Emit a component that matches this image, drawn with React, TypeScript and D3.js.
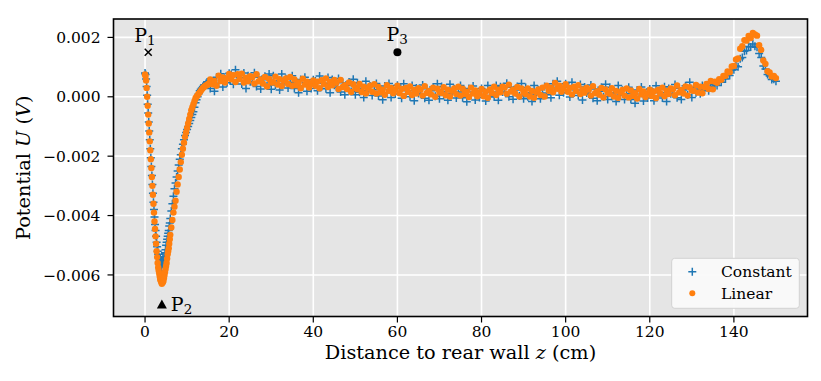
import React from 'react';
import * as d3 from 'd3';

const W = 821;
const H = 381;

// axis ticks
const xTicks = [0, 20, 40, 60, 80, 100, 120, 140];
const yTicks = [-0.006, -0.004, -0.002, 0, 0.002];

// sampling positions along z (cm): [start, end, step]
const zSegments: [number, number, number][] = [
  [0, 6, 0.125],
  [6.25, 15, 0.25],
  [15.5, 150, 0.5],
];

// values are in units of 1e-4 V
const UNIT = 1e-4;

const linearValues = [
  // z 0 .. 6 step 0.125
  7.5, 7, 5.5, 3, 0, -3, -6, -9, -12, -15, -18, -21, -24, -27, -30, -33, -36, -39, -42, -44.5,
  -47, -49.5, -52, -54, -56, -57.5, -58.5, -59.5, -60.5, -61.5, -62, -62.5, -63, -62.5, -62.5, -62, -61, -60, -59, -58,
  -57, -56, -54.5, -53, -52, -51, -49.5, -48, -46.5,
  // z 6.25 .. 15 step 0.25
  -44, -41.5, -39, -37, -35, -32, -29.5, -27, -24.5, -22,
  -19.5, -17.5, -15.5, -13.5, -12, -10.5, -9, -7.5, -6, -4.5,
  -3.5, -2.5, -1.5, -0.5, 0, 0.5, 1, 1.5, 2, 2.5,
  3, 3.3, 3.6, 3.8, 4, 4.3,
  // z 15.5 .. 150 step 0.5
  5.8, 4.2, 5.3, 3.7, 7.1, 5.3, 6.5, 4.8, 6.2, 7.7,
  5.9, 7.3, 5.0, 7.6, 6.1, 7.8, 4.8, 6.4, 5.2, 6.9,
  6.6, 4.5, 7.6, 5.2, 5.8, 4.5, 6.7, 3.5, 6.0, 4.8,
  4.9, 6.8, 4.1, 5.9, 3.6, 5.4, 6.2, 4.3, 6.7, 3.7,
  5.8, 3.9, 4.8, 2.9, 6.1, 4.1, 5.1, 3.1, 4.3, 5.5,
  3.7, 5.1, 2.9, 5.6, 4.3, 6.2, 3.3, 5.0, 3.9, 5.7,
  4.7, 2.6, 5.7, 3.3, 3.9, 2.6, 4.8, 1.6, 4.2, 3.0,
  2.5, 4.3, 1.6, 3.4, 1.1, 2.9, 3.7, 1.7, 4.2, 1.1,
  3.3, 1.5, 2.4, 0.7, 3.9, 2.0, 3.0, 1.2, 2.4, 3.7,
  1.2, 2.6, 0.3, 3.0, 1.7, 3.5, 0.6, 2.3, 1.1, 2.9,
  2.4, 0.4, 3.6, 1.3, 2.0, 0.8, 3.1, 0.0, 2.7, 1.6,
  1.3, 3.2, 0.5, 2.4, 0.1, 2.0, 2.8, 0.9, 3.4, 0.4,
  2.7, 0.9, 1.7, -0.1, 3.1, 1.1, 2.1, 0.2, 1.3, 2.6,
  0.2, 1.7, -0.3, 2.5, 1.3, 3.4, 0.6, 2.4, 1.5, 3.4,
  3.1, 1.0, 4.1, 1.8, 2.4, 1.1, 3.3, 0.1, 2.8, 1.6,
  0.9, 2.8, 0.1, 2.0, -0.3, 1.6, 2.5, 0.6, 3.1, 0.1,
  3.7, 2.0, 3.1, 1.5, 4.7, 2.7, 3.7, 1.7, 2.9, 4.2,
  1.7, 3.0, 0.8, 3.4, 2.0, 3.9, 0.9, 2.5, 1.4, 3.1,
  2.4, 0.4, 3.6, 1.2, 1.9, 0.7, 3.0, -0.2, 2.5, 1.4,
  1.0, 2.9, 0.1, 2.0, -0.3, 1.5, 2.3, 0.4, 2.8, -0.2,
  2.1, 0.3, 1.2, -0.6, 2.6, 0.8, 1.8, -0.1, 1.1, 2.4,
  0.3, 1.8, -0.4, 2.4, 1.1, 3.1, 0.2, 2.0, 0.9, 2.8,
  2.5, 0.5, 3.8, 1.5, 2.3, 1.1, 3.5, 0.4, 3.2, 2.1,
  2.0, 4.0, 1.4, 3.4, 1.2, 3.3, 4.3, 2.6, 5.3, 2.5,
  5.1, 4.7, 5.9, 5.7, 7.0, 7.1, 8.5, 8.3, 10.2, 10.4,
  12.6, 12.9, 16.2, 17.0, 19.1, 18.9, 20.5, 19.8, 21.5, 21.0,
  20.6, 17.4, 15.8, 12.2, 11.1, 8.6, 8.2, 6.8, 7.0, 6.3,
];

const constantValues = [
  // z 0 .. 6 step 0.125
  8, 7.5, 6, 3.5, 0.5, -2.5, -5.5, -8.5, -11.5, -14.5, -17.5, -20.5, -23.5, -26.5, -29.5, -32.5, -35.5, -38, -40.5, -43,
  -45, -47, -49, -50.5, -52, -53, -54, -55.5, -56, -54.5, -57, -58.5, -55, -56.5, -54, -55.5, -55, -54, -52.5, -51.5,
  -50, -49, -48, -47, -46, -45, -43.5, -42.5, -41,
  // z 6.25 .. 15 step 0.25
  -38.5, -36, -33.5, -31, -29, -27, -25, -23, -21, -19.5,
  -17.5, -16, -14.5, -13, -12, -11, -10, -9, -8, -7,
  -6, -5, -3.5, -2, -1, 0, 1, 2, 2.5, 3,
  3.5, 4, 4, 4.5, 5, 5,
  // z 15.5 .. 150 step 0.5
  2.8, 5.3, 1.9, 6.6, 4.6, 7.8, 3.3, 6.2, 4.7, 7.9,
  7.5, 4.2, 9.1, 5.5, 6.4, 4.3, 8.0, 2.8, 7.1, 5.1,
  5.1, 8.1, 3.5, 6.6, 2.6, 5.7, 6.9, 3.7, 7.7, 2.5,
  7.1, 4.0, 5.4, 2.3, 7.7, 4.5, 6.1, 3.0, 4.9, 7.1,
  2.8, 5.0, 1.4, 5.8, 3.6, 6.6, 1.9, 4.5, 2.8, 5.7,
  5.3, 2.0, 7.0, 3.5, 4.6, 2.7, 6.5, 1.4, 5.8, 3.9,
  3.2, 6.2, 1.6, 4.7, 0.7, 3.8, 5.0, 1.8, 5.9, 0.7,
  4.7, 1.5, 2.9, -0.2, 5.2, 2.0, 3.6, 0.4, 2.4, 4.5,
  0.3, 2.6, -1.0, 3.6, 1.4, 4.5, -0.2, 2.6, 0.9, 3.9,
  2.8, -0.5, 4.4, 0.9, 2.0, 0.0, 3.8, -1.3, 3.0, 1.1,
  0.9, 4.0, -0.5, 2.7, -1.2, 2.0, 3.3, 0.2, 4.4, -0.7,
  3.5, 0.4, 1.8, -1.2, 4.2, 1.1, 2.7, -0.4, 1.6, 3.8,
  -0.3, 2.0, -1.7, 2.8, 0.6, 3.6, -1.1, 1.6, -0.2, 2.8,
  1.8, -1.4, 3.8, 0.4, 1.6, -0.1, 3.8, -1.2, 3.4, 1.6,
  1.6, 4.6, 0.0, 3.2, -0.8, 2.3, 3.5, 0.3, 4.5, -0.7,
  3.1, 0.0, 1.4, -1.6, 3.8, 0.7, 2.4, -0.7, 1.3, 3.5,
  0.7, 3.1, -0.3, 4.4, 2.2, 5.2, 0.5, 3.1, 1.4, 4.4,
  3.3, -0.1, 4.9, 1.3, 2.3, 0.4, 4.1, -1.1, 3.3, 1.3,
  0.9, 4.0, -0.5, 2.6, -1.3, 1.9, 3.2, 0.0, 4.2, -0.9,
  3.2, 0.1, 1.4, -1.6, 3.8, 0.6, 2.2, -0.9, 1.0, 3.2,
  -0.9, 1.4, -2.2, 2.3, 0.1, 3.3, -1.4, 1.3, -0.4, 2.6,
  1.9, -1.3, 3.7, 0.3, 1.4, -0.4, 3.4, -1.6, 2.8, 1.0,
  1.0, 4.1, -0.3, 2.9, -0.9, 2.3, 3.7, 0.6, 4.9, -0.2,
  3.2, 1.4, 2.6, 1.0, 3.8, 2.3, 3.6, 2.0, 3.5, 4.4,
  4.1, 3.8, 5.0, 4.9, 6.1, 6.0, 7.4, 7.2, 8.9, 9.1,
  10.4, 10.1, 12.8, 13.2, 15.3, 15.6, 16.9, 16.8, 17.8, 17.0,
  16.7, 14.6, 13.2, 10.4, 9.4, 7.5, 7.0, 5.8, 5.9, 5.2,
];

// annotated points
const pointLabels = ['1', '2', '3'];
const pointZ = [0.75, 4, 60];
const pointU = [0.0015, -0.007, 0.0015];

const seriesNames = ['Constant', 'Linear'];
const BLUE = '#1f77b4';
const ORANGE = '#ff7f0e';

const FONT = "'DejaVu Serif', serif";

const zGrid: number[] = zSegments.flatMap(([a, b, s]) =>
  d3.range(Math.round((b - a) / s) + 1).map((i) => a + i * s)
);

export default function App() {
  const left = 113.5, right = 807.5, top = 19, bottom = 316.5;
  const x = d3.scaleLinear().domain([-7.5, 157.5]).range([left, right]);
  const y = d3.scaleLinear().domain([-0.0074, 0.00262]).range([bottom, top]);

  const arm = 4;
  const plusPath = zGrid
    .map((z, i) => {
      const px = x(z), py = y(constantValues[i] * UNIT);
      return `M${px - arm},${py}h${2 * arm}M${px},${py - arm}v${2 * arm}`;
    })
    .join('');

  const fmt = (v: number) => d3.format('.3f')(v).replace('-', '\u2212');

  const p1x = x(pointZ[0]), p1y = y(pointU[0]);
  const p2x = x(pointZ[1]), p2y = y(pointU[1]);
  const p3x = x(pointZ[2]), p3y = y(pointU[2]);

  const PF = 19;
  const SF = 13.5;

  return (
    <svg width={W} height={H} style={{ position: 'absolute', left: 0, top: 0 }} fontFamily={FONT}>
      <rect x={0} y={0} width={W} height={H} fill="#ffffff" />
      <rect x={left} y={top} width={right - left} height={bottom - top} fill="#e5e5e5" />
      {/* grid */}
      {xTicks.map((t) => (
        <line key={'gx' + t} x1={x(t)} x2={x(t)} y1={top} y2={bottom} stroke="#ffffff" strokeWidth={1.6} />
      ))}
      {yTicks.map((t) => (
        <line key={'gy' + t} x1={left} x2={right} y1={y(t)} y2={y(t)} stroke="#ffffff" strokeWidth={1.6} />
      ))}
      {/* Constant series */}
      <path d={plusPath} stroke={BLUE} strokeWidth={1.5} fill="none" />
      {/* Linear series */}
      {zGrid.map((z, i) => (
        <circle key={'l' + i} cx={x(z)} cy={y(linearValues[i] * UNIT)} r={3.2} fill={ORANGE} />
      ))}
      {/* annotations */}
      <g stroke="#000" strokeWidth={1.5}>
        <line x1={p1x - 3.5} x2={p1x + 3.5} y1={p1y - 3.5} y2={p1y + 3.5} />
        <line x1={p1x - 3.5} x2={p1x + 3.5} y1={p1y + 3.5} y2={p1y - 3.5} />
      </g>
      <text x={p1x - 14} y={p1y - 10} fontSize={PF} fill="#000">
        P<tspan fontSize={SF} dy={3}>{pointLabels[0]}</tspan>
      </text>
      <path d={`M${p2x},${p2y - 5}L${p2x + 5},${p2y + 4}L${p2x - 5},${p2y + 4}Z`} fill="#000" />
      <text x={p2x + 9} y={p2y + 6} fontSize={PF} fill="#000">
        P<tspan fontSize={SF} dy={3}>{pointLabels[1]}</tspan>
      </text>
      <circle cx={p3x} cy={p3y} r={4} fill="#000" />
      <text x={p3x - 11} y={p3y - 11.5} fontSize={PF} fill="#000">
        P<tspan fontSize={SF} dy={3}>{pointLabels[2]}</tspan>
      </text>
      {/* spines */}
      <rect x={left} y={top} width={right - left} height={bottom - top} fill="none" stroke="#000" strokeWidth={1.6} />
      {/* x ticks */}
      {xTicks.map((t) => (
        <g key={'xt' + t}>
          <line x1={x(t)} x2={x(t)} y1={bottom} y2={bottom + 6} stroke="#000" strokeWidth={1.2} />
          <text x={x(t)} y={bottom + 20.5} textAnchor="middle" fontSize={15.5} fill="#000">
            {t}
          </text>
        </g>
      ))}
      {/* y ticks */}
      {yTicks.map((t) => (
        <g key={'yt' + t}>
          <line x1={left - 6} x2={left} y1={y(t)} y2={y(t)} stroke="#000" strokeWidth={1.2} />
          <text x={left - 13} y={y(t) + 5.6} textAnchor="end" fontSize={15.5} fill="#000">
            {fmt(t)}
          </text>
        </g>
      ))}
      {/* axis labels */}
      <text x={(left + right) / 2} y={359} textAnchor="middle" fontSize={19.3} fill="#000">
        Distance to rear wall <tspan fontStyle="italic">z</tspan> (cm)
      </text>
      <text
        transform={`translate(29.5, ${(top + bottom) / 2}) rotate(-90)`}
        textAnchor="middle"
        fontSize={19.3}
        fill="#000"
      >
        Potential <tspan fontStyle="italic">U</tspan> (<tspan fontStyle="italic">V</tspan>)
      </text>
      {/* legend */}
      <rect x={671.7} y={258.3} width={127.6} height={50} rx={3} fill="#fafafa" fillOpacity={0.95} stroke="#d2d2d2" strokeWidth={1} />
      <path d={`M${692.3 - 4},271.7h8M692.3,${271.7 - 4}v8`} stroke={BLUE} strokeWidth={1.5} />
      <circle cx={692.3} cy={293.3} r={3} fill={ORANGE} />
      <text x={721} y={277} fontSize={15.5} fill="#000">{seriesNames[0]}</text>
      <text x={721} y={298.8} fontSize={15.5} fill="#000">{seriesNames[1]}</text>
    </svg>
  );
}
